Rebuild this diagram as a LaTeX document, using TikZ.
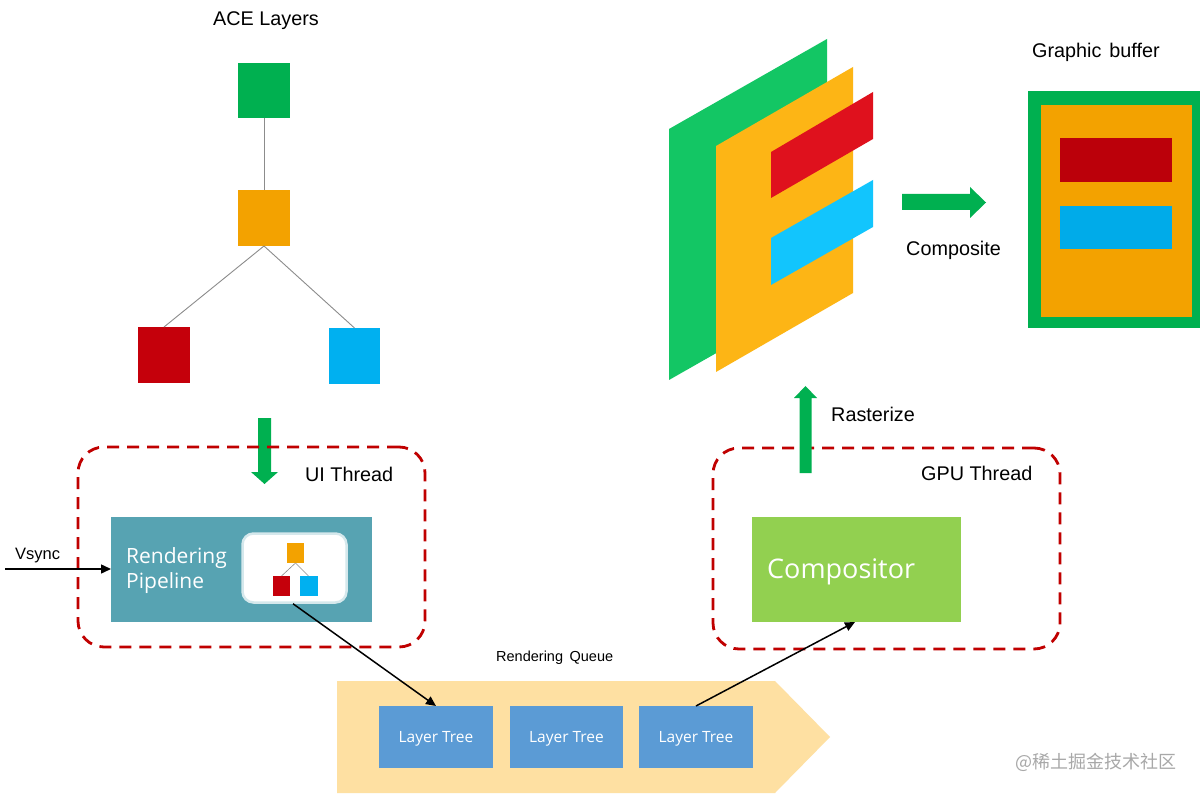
\documentclass[tikz,border=0pt]{standalone}
\usepackage{fontspec}
\setmainfont{Liberation Sans}
\newfontfamily\segf{Open Sans}
\newfontfamily\cjkf{Noto Sans CJK SC}
\usetikzlibrary{arrows.meta}
\definecolor{aceG}{HTML}{00B050}
\definecolor{aceO}{HTML}{F3A200}
\definecolor{aceR}{HTML}{C5000B}
\definecolor{aceB}{HTML}{00B0F0}
\definecolor{plG}{HTML}{13C664}
\definecolor{plO}{HTML}{FDB515}
\definecolor{plR}{HTML}{DF111D}
\definecolor{plB}{HTML}{12C5FD}
\definecolor{dashR}{HTML}{C00000}
\definecolor{teal}{HTML}{57A3B2}
\definecolor{queue}{HTML}{FEE0A2}
\definecolor{ltree}{HTML}{5B9BD5}
\definecolor{comp}{HTML}{92D050}
\definecolor{wm}{HTML}{A8A8A8}
\tikzset{
  blk/.style={rectangle, draw=none, inner sep=0pt, outer sep=0pt},
  lbl/.style={inner sep=0pt, anchor=base west, font=\fontsize{19.8}{22}\selectfont},
  dashbox/.style={rectangle, draw=dashR, line width=2.8pt, dash pattern=on 12pt off 8pt, rounded corners=26pt, inner sep=0pt},
  tree/.style={draw=black!45, line width=0.9pt},
  conn/.style={draw=black, line width=1.5pt, -{Triangle[length=10pt,width=9pt]}},
  ltbox/.style={blk, fill=ltree, minimum width=114pt, minimum height=62pt, text=white, text depth=0pt, font=\segf\fontsize{15.5}{18}\selectfont},
}
\begin{document}
\begin{tikzpicture}[x=1pt,y=-1pt]
\useasboundingbox (0,0) rectangle (1200,794);
\fill[white] (0,0) rectangle (1200,794);

% ---------- ACE layers ----------
\node[lbl, anchor=base] (acet) at (266,26) {ACE Layers};
\node[blk, fill=aceG, minimum width=52pt, minimum height=55pt] (ag) at (264,90.5) {};
\node[blk, fill=aceO, minimum width=52pt, minimum height=56pt] (ao) at (264,218) {};
\node[blk, fill=aceR, minimum width=52pt, minimum height=56pt] (ar) at (164,355) {};
\node[blk, fill=aceB, minimum width=51pt, minimum height=56pt] (ab) at (354.5,356) {};
\draw[tree] (ag.south) -- (ao.north);
\draw[tree] (ao.south) -- (ar.north);
\draw[tree] (ao.south) -- (ab.north);

% green down arrow
\fill[aceG] (258,418) -- (271,418) -- (271,472) -- (278,472) -- (264.5,484) -- (251,472) -- (258,472) -- cycle;

% ---------- UI thread ----------
\node[dashbox, minimum width=347pt, minimum height=200pt] (ui) at (251.5,547) {};
\node[lbl] (uit) at (305,481) {UI Thread};
\node[blk, fill=teal, minimum width=261pt, minimum height=105pt] (rp) at (241.5,569.5) {};
\node[inner sep=0pt, anchor=base west, text=white, font=\segf\fontsize{21}{25}\selectfont] (rp1) at (126,563) {Rendering};
\node[inner sep=0pt, anchor=base west, text=white, font=\segf\fontsize{21}{25}\selectfont] (rp2) at (126,588) {Pipeline};
\node[rectangle, fill=white, draw=white!75!teal, line width=2.5pt, rounded corners=11pt, minimum width=104pt, minimum height=69pt, inner sep=0pt] (mini) at (294.5,568) {};
\node[blk, fill=aceO, minimum width=17pt, minimum height=20pt] (mo) at (295.5,553) {};
\node[blk, fill=aceR, minimum width=17pt, minimum height=20pt] (mr) at (281.5,586) {};
\node[blk, fill=aceB, minimum width=18pt, minimum height=20pt] (mb) at (308.5,586) {};
\draw[draw=black!45, line width=0.6pt] (mo.south) -- (mr.north);
\draw[draw=black!45, line width=0.6pt] (mo.south) -- (mb.north);

% Vsync
\coordinate (vs) at (5,569);
\node[inner sep=0pt, anchor=base west, font=\fontsize{16.5}{19}\selectfont] (vst) at (15,559) {Vsync};
\draw[conn] (vs) -- (rp.west |- vs);

% ---------- Rendering queue ----------
\node[inner sep=0pt, anchor=base west, font=\fontsize{14.5}{17}\selectfont] (rqt) at (496,661) {Rendering\hspace{0.45em}Queue};
\fill[queue] (337,681) -- (775,681) -- (830,737) -- (775,793) -- (337,793) -- cycle;
\node[ltbox] (lt1) at (436,737) {Layer Tree};
\node[ltbox, minimum width=113pt] (lt2) at (566.5,737) {Layer Tree};
\node[ltbox] (lt3) at (696,737) {Layer Tree};

% ---------- GPU thread ----------
\node[dashbox, minimum width=347pt, minimum height=201pt] (gpu) at (886.5,548.5) {};
\node[lbl] (gput) at (921,480) {GPU Thread};
\node[blk, fill=comp, minimum width=209pt, minimum height=105pt] (cmp) at (856.5,569.5) {};
\node[inner sep=0pt, anchor=base west, text=white, font=\segf\fontsize{27}{30}\selectfont] (cmpt) at (767,578) {Compositor};

% connectors
\draw[conn] ([xshift=-1.5pt]mini.south) -- ([xshift=0pt]lt1.north);
\draw[conn] (lt3.north) -- ([xshift=-1.5pt]cmp.south);

% rasterize arrow
\fill[aceG] (799.5,473) -- (811.5,473) -- (811.5,398) -- (817,398) -- (805.5,386) -- (794,398) -- (799.5,398) -- cycle;
\node[lbl] (rast) at (831,421) {Rasterize};

% ---------- layers (parallelograms) ----------
\fill[plG] (669,129) -- (827,39) -- (827,290) -- (669,380) -- cycle;
\fill[plO] (716,146) -- (853,67) -- (853,293) -- (716,372) -- cycle;
\fill[plR] (771,152) -- (873,92) -- (873,139) -- (771,198) -- cycle;
\fill[plB] (771,238) -- (873,180) -- (873,227) -- (771,285) -- cycle;

% composite arrow
\fill[aceG] (902,194) -- (970,194) -- (970,187) -- (986,202.5) -- (970,218) -- (970,210) -- (902,210) -- cycle;
\node[lbl] (compt) at (906,256) {Composite};

% ---------- graphic buffer ----------
\node[lbl] (gbt) at (1032,58) {Graphic\hspace{0.4em}buffer};
\fill[aceG] (1028,91) rectangle (1200,328);
\node[blk, fill=aceO, minimum width=151pt, minimum height=212pt] (gbi) at (1116.5,211) {};
\node[blk, fill=aceR!95!black, minimum width=112pt, minimum height=44pt] (gbr) at (1116,160) {};
\node[blk, fill=aceB!97!black, minimum width=112pt, minimum height=43pt] (gbb) at (1116,227.5) {};

% watermark
\node[inner sep=0pt, text=wm, font=\cjkf\fontsize{18}{20}\selectfont] (wmk) at (1096,762) {@稀土掘金技术社区};
\end{tikzpicture}
\end{document}
